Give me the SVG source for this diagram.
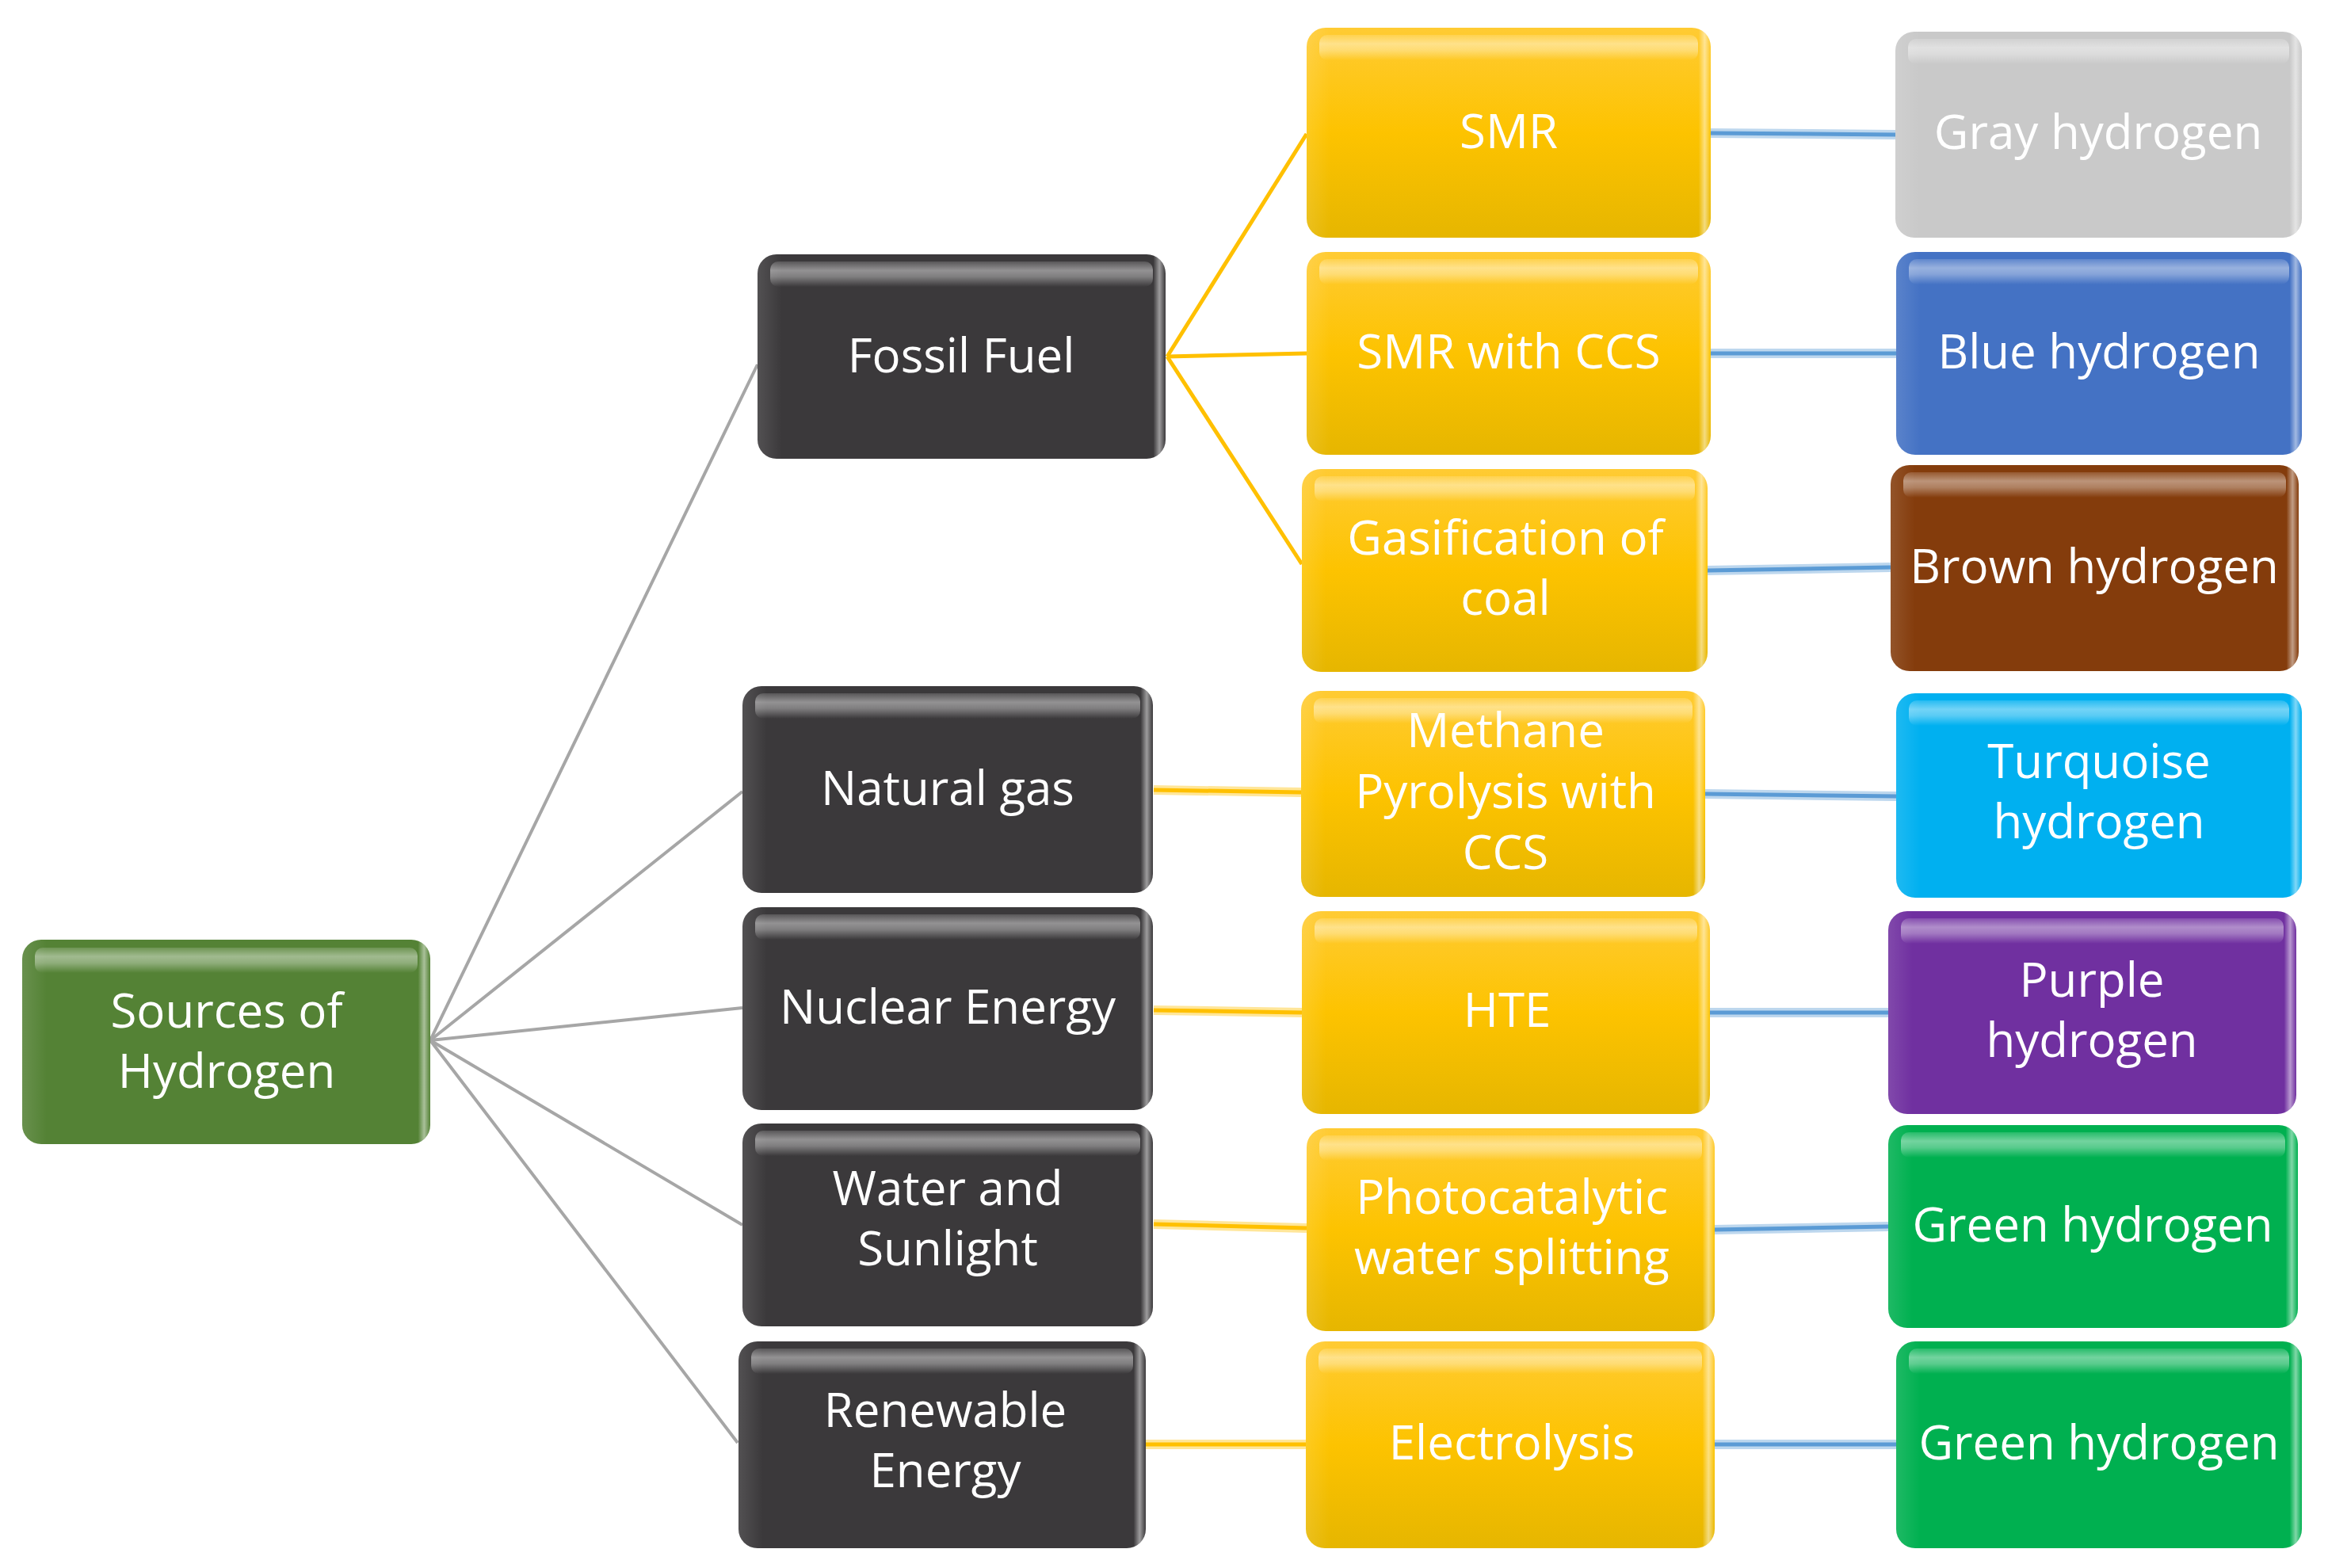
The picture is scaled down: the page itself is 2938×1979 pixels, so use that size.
<svg xmlns="http://www.w3.org/2000/svg" width="2938" height="1979" viewBox="0 0 2938 1979">
<defs>
<style>
.box{stroke:none}
.band{fill:url(#bandg)}
.shade{fill:url(#shade)}
.t{font-family:"Open Sans","Noto Sans",sans-serif;font-size:60px;font-weight:500;fill:#ffffff;text-anchor:middle}
.cg{stroke:#A6A6A6;stroke-width:4;fill:none}
.cy{stroke:#FFC000;stroke-width:5;fill:none}
.cyh{stroke:#FFE699;stroke-width:12;fill:none}
.cb{stroke:#5B9BD5;stroke-width:5;fill:none}
.cbh{stroke:#BDD7EE;stroke-width:12;fill:none}
.dark{fill:#3B393B}
.root{fill:#548235}
.yel{fill:url(#yg)}
.gray{fill:#C9C9C9}
.blue{fill:#4472C4}
.brown{fill:#843C0C}
.turq{fill:#00B0F0}
.purp{fill:#7030A0}
.green{fill:#00B050}
</style>
<linearGradient id="yg" x1="0" y1="0" x2="0" y2="1">
<stop offset="0" stop-color="#FFCB33"/>
<stop offset="0.5" stop-color="#FDC300"/>
<stop offset="1" stop-color="#E6B600"/>
</linearGradient>
<linearGradient id="bandg" x1="0" y1="0" x2="0" y2="1">
<stop offset="0" stop-color="#ffffff" stop-opacity="0.15"/>
<stop offset="0.35" stop-color="#ffffff" stop-opacity="0.45"/>
<stop offset="0.6" stop-color="#ffffff" stop-opacity="0.35"/>
<stop offset="1" stop-color="#ffffff" stop-opacity="0"/>
</linearGradient>
<linearGradient id="shade" x1="0" y1="0" x2="1" y2="0">
<stop offset="0" stop-color="#ffffff" stop-opacity="0.12"/>
<stop offset="0.06" stop-color="#ffffff" stop-opacity="0"/>
<stop offset="0.97" stop-color="#ffffff" stop-opacity="0"/>
<stop offset="0.985" stop-color="#ffffff" stop-opacity="0.5"/>
<stop offset="1" stop-color="#ffffff" stop-opacity="0"/>
</linearGradient>
</defs>

<g id="connectors">
<line class="cg" x1="543" y1="1313" x2="956" y2="460"/>
<line class="cg" x1="543" y1="1313" x2="937" y2="999"/>
<line class="cg" x1="543" y1="1313" x2="937" y2="1272"/>
<line class="cg" x1="543" y1="1313" x2="937" y2="1546"/>
<line class="cg" x1="543" y1="1313" x2="931" y2="1821"/>
<line class="cy" x1="1473" y1="450" x2="1649" y2="169"/>
<line class="cy" x1="1473" y1="450" x2="1649" y2="446"/>
<line class="cy" x1="1473" y1="450" x2="1643" y2="712"/>
<line class="cyh" x1="1456" y1="997" x2="1642" y2="1000"/>
<line class="cy" x1="1456" y1="997" x2="1642" y2="1000"/>
<line class="cyh" x1="1456" y1="1275" x2="1643" y2="1278"/>
<line class="cy" x1="1456" y1="1275" x2="1643" y2="1278"/>
<line class="cyh" x1="1456" y1="1545" x2="1649" y2="1550"/>
<line class="cy" x1="1456" y1="1545" x2="1649" y2="1550"/>
<line class="cyh" x1="1446" y1="1823" x2="1648" y2="1823"/>
<line class="cy" x1="1446" y1="1823" x2="1648" y2="1823"/>
<line class="cbh" x1="2158" y1="168" x2="2392" y2="170"/>
<line class="cb" x1="2158" y1="168" x2="2392" y2="170"/>
<line class="cbh" x1="2158" y1="446" x2="2393" y2="446"/>
<line class="cb" x1="2158" y1="446" x2="2393" y2="446"/>
<line class="cbh" x1="2155" y1="720" x2="2386" y2="716"/>
<line class="cb" x1="2155" y1="720" x2="2386" y2="716"/>
<line class="cbh" x1="2152" y1="1002" x2="2393" y2="1005"/>
<line class="cb" x1="2152" y1="1002" x2="2393" y2="1005"/>
<line class="cbh" x1="2158" y1="1278" x2="2383" y2="1278"/>
<line class="cb" x1="2158" y1="1278" x2="2383" y2="1278"/>
<line class="cbh" x1="2164" y1="1552" x2="2383" y2="1548"/>
<line class="cb" x1="2164" y1="1552" x2="2383" y2="1548"/>
<line class="cbh" x1="2164" y1="1823" x2="2393" y2="1823"/>
<line class="cb" x1="2164" y1="1823" x2="2393" y2="1823"/>
</g>

<g id="root">
<rect class="box root" x="28" y="1186" width="515" height="258" rx="24"/>
<rect class="shade" x="28" y="1186" width="515" height="258" rx="24"/>
<rect class="band" x="44" y="1196" width="483" height="32" rx="10"/>
<text class="t"><tspan x="286" y="1297">Sources of</tspan><tspan x="286" y="1373">Hydrogen</tspan></text>
</g>

<g id="fossil">
<rect class="box dark" x="956" y="321" width="515" height="258" rx="24"/>
<rect class="shade" x="956" y="321" width="515" height="258" rx="24"/>
<rect class="band" x="972" y="330" width="483" height="32" rx="10"/>
<text class="t" x="1213" y="470">Fossil Fuel</text>
</g>

<g id="natural-gas">
<rect class="box dark" x="937" y="866" width="518" height="261" rx="24"/>
<rect class="shade" x="937" y="866" width="518" height="261" rx="24"/>
<rect class="band" x="953" y="875" width="486" height="32" rx="10"/>
<text class="t" x="1196" y="1016">Natural gas</text>
</g>

<g id="nuclear">
<rect class="box dark" x="937" y="1145" width="518" height="256" rx="24"/>
<rect class="shade" x="937" y="1145" width="518" height="256" rx="24"/>
<rect class="band" x="953" y="1154" width="486" height="32" rx="10"/>
<text class="t" x="1196" y="1292">Nuclear Energy</text>
</g>

<g id="water">
<rect class="box dark" x="937" y="1418" width="518" height="256" rx="24"/>
<rect class="shade" x="937" y="1418" width="518" height="256" rx="24"/>
<rect class="band" x="953" y="1427" width="486" height="32" rx="10"/>
<text class="t"><tspan x="1196" y="1521">Water and</tspan><tspan x="1196" y="1597">Sunlight</tspan></text>
</g>

<g id="renewable">
<rect class="box dark" x="932" y="1693" width="514" height="261" rx="24"/>
<rect class="shade" x="932" y="1693" width="514" height="261" rx="24"/>
<rect class="band" x="948" y="1702" width="482" height="32" rx="10"/>
<text class="t"><tspan x="1193" y="1801">Renewable</tspan><tspan x="1193" y="1877">Energy</tspan></text>
</g>

<g id="smr">
<rect class="box yel" x="1649" y="35" width="510" height="265" rx="24"/>
<rect class="shade" x="1649" y="35" width="510" height="265" rx="24"/>
<rect class="band" x="1665" y="44" width="478" height="32" rx="10"/>
<text class="t" x="1904" y="187">SMR</text>
</g>

<g id="smr-ccs">
<rect class="box yel" x="1649" y="318" width="510" height="256" rx="24"/>
<rect class="shade" x="1649" y="318" width="510" height="256" rx="24"/>
<rect class="band" x="1665" y="327" width="478" height="32" rx="10"/>
<text class="t" x="1904" y="465">SMR with CCS</text>
</g>

<g id="gasification">
<rect class="box yel" x="1643" y="592" width="512" height="256" rx="24"/>
<rect class="shade" x="1643" y="592" width="512" height="256" rx="24"/>
<rect class="band" x="1659" y="601" width="480" height="32" rx="10"/>
<text class="t"><tspan x="1900" y="700">Gasification of</tspan><tspan x="1900" y="776">coal</tspan></text>
</g>

<g id="methane">
<rect class="box yel" x="1642" y="872" width="510" height="260" rx="24"/>
<rect class="shade" x="1642" y="872" width="510" height="260" rx="24"/>
<rect class="band" x="1658" y="881" width="478" height="32" rx="10"/>
<text class="t"><tspan x="1900" y="943">Methane</tspan><tspan x="1900" y="1020">Pyrolysis with</tspan><tspan x="1900" y="1097">CCS</tspan></text>
</g>

<g id="hte">
<rect class="box yel" x="1643" y="1150" width="515" height="256" rx="24"/>
<rect class="shade" x="1643" y="1150" width="515" height="256" rx="24"/>
<rect class="band" x="1659" y="1159" width="483" height="32" rx="10"/>
<text class="t" x="1902" y="1296">HTE</text>
</g>

<g id="photocatalytic">
<rect class="box yel" x="1649" y="1424" width="515" height="256" rx="24"/>
<rect class="shade" x="1649" y="1424" width="515" height="256" rx="24"/>
<rect class="band" x="1665" y="1433" width="483" height="32" rx="10"/>
<text class="t"><tspan x="1908" y="1532">Photocatalytic</tspan><tspan x="1908" y="1608">water splitting</tspan></text>
</g>

<g id="electrolysis">
<rect class="box yel" x="1648" y="1693" width="516" height="261" rx="24"/>
<rect class="shade" x="1648" y="1693" width="516" height="261" rx="24"/>
<rect class="band" x="1664" y="1702" width="484" height="32" rx="10"/>
<text class="t" x="1908" y="1842">Electrolysis</text>
</g>

<g id="gray">
<rect class="box gray" x="2392" y="40" width="513" height="260" rx="24"/>
<rect class="shade" x="2392" y="40" width="513" height="260" rx="24"/>
<rect class="band" x="2408" y="49" width="481" height="32" rx="10"/>
<text class="t" x="2648" y="188">Gray hydrogen</text>
</g>

<g id="blue">
<rect class="box blue" x="2393" y="318" width="512" height="256" rx="24"/>
<rect class="shade" x="2393" y="318" width="512" height="256" rx="24"/>
<rect class="band" x="2409" y="327" width="480" height="32" rx="10"/>
<text class="t" x="2649" y="465">Blue hydrogen</text>
</g>

<g id="brown">
<rect class="box brown" x="2386" y="587" width="515" height="260" rx="24"/>
<rect class="shade" x="2386" y="587" width="515" height="260" rx="24"/>
<rect class="band" x="2402" y="596" width="483" height="32" rx="10"/>
<text class="t" x="2643" y="736">Brown hydrogen</text>
</g>

<g id="turquoise">
<rect class="box turq" x="2393" y="875" width="512" height="258" rx="24"/>
<rect class="shade" x="2393" y="875" width="512" height="258" rx="24"/>
<rect class="band" x="2409" y="884" width="480" height="32" rx="10"/>
<text class="t"><tspan x="2649" y="982">Turquoise</tspan><tspan x="2649" y="1058">hydrogen</tspan></text>
</g>

<g id="purple">
<rect class="box purp" x="2383" y="1150" width="515" height="256" rx="24"/>
<rect class="shade" x="2383" y="1150" width="515" height="256" rx="24"/>
<rect class="band" x="2399" y="1159" width="483" height="32" rx="10"/>
<text class="t"><tspan x="2640" y="1258">Purple</tspan><tspan x="2640" y="1334">hydrogen</tspan></text>
</g>

<g id="green1">
<rect class="box green" x="2383" y="1420" width="517" height="256" rx="24"/>
<rect class="shade" x="2383" y="1420" width="517" height="256" rx="24"/>
<rect class="band" x="2399" y="1429" width="485" height="32" rx="10"/>
<text class="t" x="2641" y="1567">Green hydrogen</text>
</g>

<g id="green2">
<rect class="box green" x="2393" y="1693" width="512" height="261" rx="24"/>
<rect class="shade" x="2393" y="1693" width="512" height="261" rx="24"/>
<rect class="band" x="2409" y="1702" width="480" height="32" rx="10"/>
<text class="t" x="2649" y="1842">Green hydrogen</text>
</g>
</svg>
